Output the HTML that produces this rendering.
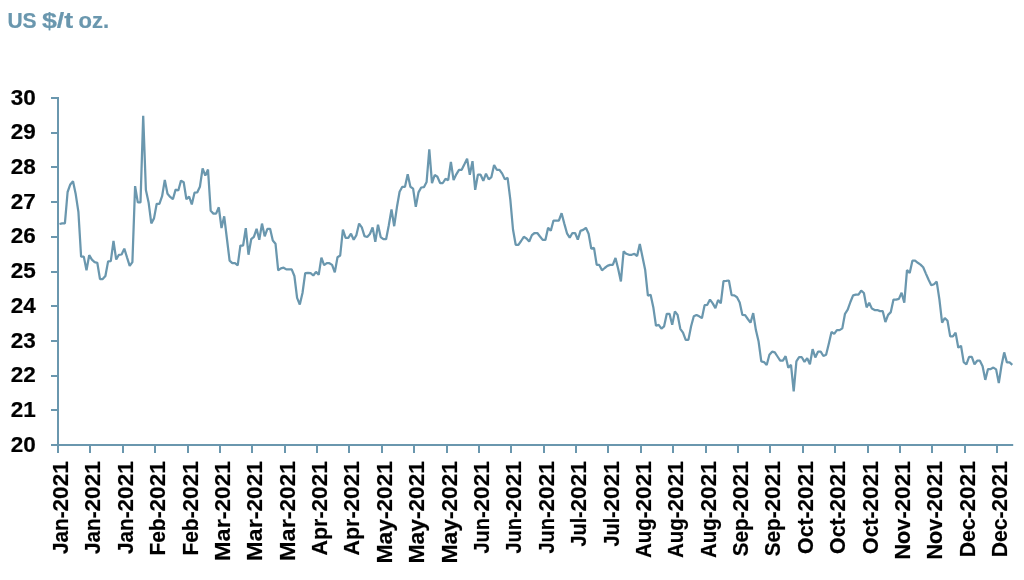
<!DOCTYPE html>
<html lang="en">
<head>
<meta charset="utf-8">
<title>US $/t oz.</title>
<style>
html,body{margin:0;padding:0;background:#fff;}
body{width:1024px;height:580px;overflow:hidden;}
svg{display:block;}
text{font-family:"Liberation Sans",sans-serif;font-weight:700;font-size:22.5px;}
.yl,.xl{fill:#000;stroke:#000;stroke-width:.2px;}
.ttl{fill:#6a97ae;stroke:#6a97ae;stroke-width:.2px;}
.ax{stroke:#6a97ae;stroke-width:2;fill:none;}
.ln{stroke:#6a97ae;stroke-width:2.25;fill:none;stroke-linejoin:bevel;stroke-linecap:butt;}
</style>
</head>
<body>
<svg width="1024" height="580" viewBox="0 0 1024 580">
<rect width="1024" height="580" fill="#fff"/>
<text class="ttl" y="28.4" style="font-size:21.5px"><tspan x="7.4" textLength="29.2" lengthAdjust="spacingAndGlyphs">US</tspan> <tspan x="41.9" textLength="31.3" lengthAdjust="spacingAndGlyphs">$/t</tspan> <tspan x="78.6" textLength="30.6" lengthAdjust="spacingAndGlyphs">oz.</tspan></text>
<g class="ax">
<path d="M58.0,97 V446"/>
<path d="M51,445.0 H1013.2"/>
<path d="M51,410H58.0M51,376H58.0M51,341H58.0M51,306H58.0M51,272H58.0M51,237H58.0M51,202H58.0M51,167H58.0M51,133H58.0M51,98H58.0"/>
<path d="M58,445.0V453M90,445.0V453M123,445.0V453M155,445.0V453M188,445.0V453M220,445.0V453M252,445.0V453M285,445.0V453M317,445.0V453M349,445.0V453M382,445.0V453M414,445.0V453M447,445.0V453M479,445.0V453M511,445.0V453M544,445.0V453M576,445.0V453M608,445.0V453M641,445.0V453M673,445.0V453M706,445.0V453M738,445.0V453M770,445.0V453M803,445.0V453M835,445.0V453M868,445.0V453M900,445.0V453M932,445.0V453M965,445.0V453M997,445.0V453"/>
</g>
<g class="yl">
<text x="10.85" y="104.6">30</text>
<text x="10.85" y="139.3">29</text>
<text x="10.85" y="174.0">28</text>
<text x="10.85" y="208.7">27</text>
<text x="10.85" y="243.4">26</text>
<text x="10.85" y="278.1">25</text>
<text x="10.85" y="312.8">24</text>
<text x="10.85" y="347.5">23</text>
<text x="10.85" y="382.2">22</text>
<text x="10.85" y="416.9">21</text>
<text x="10.85" y="451.6">20</text>
</g>
<g class="xl">
<text transform="translate(68.0,461.3) rotate(-90)" x="-92.6"><tspan textLength="42.5" lengthAdjust="spacingAndGlyphs">Jan-</tspan><tspan x="-50.1">2021</tspan></text>
<text transform="translate(100.4,461.3) rotate(-90)" x="-92.6"><tspan textLength="42.5" lengthAdjust="spacingAndGlyphs">Jan-</tspan><tspan x="-50.1">2021</tspan></text>
<text transform="translate(132.8,461.3) rotate(-90)" x="-92.6"><tspan textLength="42.5" lengthAdjust="spacingAndGlyphs">Jan-</tspan><tspan x="-50.1">2021</tspan></text>
<text transform="translate(165.1,461.3) rotate(-90)" x="-94.3"><tspan textLength="44.2" lengthAdjust="spacingAndGlyphs">Feb-</tspan><tspan x="-50.1">2021</tspan></text>
<text transform="translate(197.5,461.3) rotate(-90)" x="-94.3"><tspan textLength="44.2" lengthAdjust="spacingAndGlyphs">Feb-</tspan><tspan x="-50.1">2021</tspan></text>
<text transform="translate(229.9,461.3) rotate(-90)" x="-99.7"><tspan textLength="49.6" lengthAdjust="spacingAndGlyphs">Mar-</tspan><tspan x="-50.1">2021</tspan></text>
<text transform="translate(262.3,461.3) rotate(-90)" x="-99.7"><tspan textLength="49.6" lengthAdjust="spacingAndGlyphs">Mar-</tspan><tspan x="-50.1">2021</tspan></text>
<text transform="translate(294.7,461.3) rotate(-90)" x="-99.7"><tspan textLength="49.6" lengthAdjust="spacingAndGlyphs">Mar-</tspan><tspan x="-50.1">2021</tspan></text>
<text transform="translate(327.0,461.3) rotate(-90)" x="-94.2"><tspan textLength="44.1" lengthAdjust="spacingAndGlyphs">Apr-</tspan><tspan x="-50.1">2021</tspan></text>
<text transform="translate(359.4,461.3) rotate(-90)" x="-94.2"><tspan textLength="44.1" lengthAdjust="spacingAndGlyphs">Apr-</tspan><tspan x="-50.1">2021</tspan></text>
<text transform="translate(391.8,461.3) rotate(-90)" x="-102.3"><tspan textLength="52.2" lengthAdjust="spacingAndGlyphs">May-</tspan><tspan x="-50.1">2021</tspan></text>
<text transform="translate(424.2,461.3) rotate(-90)" x="-102.3"><tspan textLength="52.2" lengthAdjust="spacingAndGlyphs">May-</tspan><tspan x="-50.1">2021</tspan></text>
<text transform="translate(456.6,461.3) rotate(-90)" x="-102.3"><tspan textLength="52.2" lengthAdjust="spacingAndGlyphs">May-</tspan><tspan x="-50.1">2021</tspan></text>
<text transform="translate(488.9,461.3) rotate(-90)" x="-92.3"><tspan textLength="42.3" lengthAdjust="spacingAndGlyphs">Jun-</tspan><tspan x="-50.1">2021</tspan></text>
<text transform="translate(521.3,461.3) rotate(-90)" x="-92.3"><tspan textLength="42.3" lengthAdjust="spacingAndGlyphs">Jun-</tspan><tspan x="-50.1">2021</tspan></text>
<text transform="translate(553.7,461.3) rotate(-90)" x="-92.3"><tspan textLength="42.3" lengthAdjust="spacingAndGlyphs">Jun-</tspan><tspan x="-50.1">2021</tspan></text>
<text transform="translate(586.1,461.3) rotate(-90)" x="-85.1"><tspan textLength="35.1" lengthAdjust="spacingAndGlyphs">Jul-</tspan><tspan x="-50.1">2021</tspan></text>
<text transform="translate(618.5,461.3) rotate(-90)" x="-85.1"><tspan textLength="35.1" lengthAdjust="spacingAndGlyphs">Jul-</tspan><tspan x="-50.1">2021</tspan></text>
<text transform="translate(650.8,461.3) rotate(-90)" x="-96.8"><tspan textLength="46.7" lengthAdjust="spacingAndGlyphs">Aug-</tspan><tspan x="-50.1">2021</tspan></text>
<text transform="translate(683.2,461.3) rotate(-90)" x="-96.8"><tspan textLength="46.7" lengthAdjust="spacingAndGlyphs">Aug-</tspan><tspan x="-50.1">2021</tspan></text>
<text transform="translate(715.6,461.3) rotate(-90)" x="-96.8"><tspan textLength="46.7" lengthAdjust="spacingAndGlyphs">Aug-</tspan><tspan x="-50.1">2021</tspan></text>
<text transform="translate(748.0,461.3) rotate(-90)" x="-95.0"><tspan textLength="44.9" lengthAdjust="spacingAndGlyphs">Sep-</tspan><tspan x="-50.1">2021</tspan></text>
<text transform="translate(780.4,461.3) rotate(-90)" x="-95.0"><tspan textLength="44.9" lengthAdjust="spacingAndGlyphs">Sep-</tspan><tspan x="-50.1">2021</tspan></text>
<text transform="translate(812.7,461.3) rotate(-90)" x="-92.6"><tspan textLength="42.6" lengthAdjust="spacingAndGlyphs">Oct-</tspan><tspan x="-50.1">2021</tspan></text>
<text transform="translate(845.1,461.3) rotate(-90)" x="-92.6"><tspan textLength="42.6" lengthAdjust="spacingAndGlyphs">Oct-</tspan><tspan x="-50.1">2021</tspan></text>
<text transform="translate(877.5,461.3) rotate(-90)" x="-92.6"><tspan textLength="42.6" lengthAdjust="spacingAndGlyphs">Oct-</tspan><tspan x="-50.1">2021</tspan></text>
<text transform="translate(909.9,461.3) rotate(-90)" x="-98.3"><tspan textLength="48.2" lengthAdjust="spacingAndGlyphs">Nov-</tspan><tspan x="-50.1">2021</tspan></text>
<text transform="translate(942.3,461.3) rotate(-90)" x="-98.3"><tspan textLength="48.2" lengthAdjust="spacingAndGlyphs">Nov-</tspan><tspan x="-50.1">2021</tspan></text>
<text transform="translate(974.6,461.3) rotate(-90)" x="-96.0"><tspan textLength="45.9" lengthAdjust="spacingAndGlyphs">Dec-</tspan><tspan x="-50.1">2021</tspan></text>
<text transform="translate(1007.0,461.3) rotate(-90)" x="-96.0"><tspan textLength="45.9" lengthAdjust="spacingAndGlyphs">Dec-</tspan><tspan x="-50.1">2021</tspan></text>
</g>
<polyline class="ln" points="59.5,224.0 62.2,223.3 64.9,223.3 67.6,192.0 70.3,184.4 73.0,181.3 75.7,194.1 78.4,211.8 81.1,256.6 83.8,256.6 86.5,270.3 89.2,255.2 91.9,259.7 94.6,262.1 97.3,262.8 100.0,279.1 102.7,279.1 105.4,276.0 108.1,261.4 110.8,261.1 113.5,241.0 116.2,259.5 118.9,254.8 121.6,254.5 124.3,248.6 127.0,257.3 129.7,265.8 132.4,262.1 135.1,186.1 137.8,202.4 140.5,202.4 143.2,115.7 145.9,190.0 148.6,202.4 151.3,223.4 154.0,218.4 156.7,203.8 159.4,203.8 162.1,196.2 164.8,179.9 167.5,193.8 170.2,196.9 172.9,199.2 175.6,189.6 178.3,190.5 181.0,180.6 183.7,182.3 186.4,199.2 189.1,196.5 191.8,204.4 194.5,192.7 197.2,192.4 199.9,186.8 202.6,168.4 205.3,175.6 208.0,169.5 210.7,210.8 213.4,213.6 216.1,213.6 218.8,207.3 221.5,228.0 224.2,216.3 226.9,238.5 229.6,260.7 232.3,263.2 235.0,263.2 237.7,265.4 240.4,245.5 243.1,245.5 245.8,228.1 248.5,254.7 251.2,239.2 253.9,236.8 256.6,228.8 259.3,239.7 262.0,223.6 264.7,236.3 267.4,228.8 270.1,228.8 272.8,240.6 275.5,243.7 278.2,270.3 280.9,268.4 283.6,267.7 286.3,269.4 289.0,269.4 291.7,269.4 294.4,276.0 297.1,297.9 299.8,304.6 302.5,293.0 305.2,273.2 307.9,272.9 310.6,273.2 313.3,275.5 316.0,271.8 318.7,274.8 321.4,257.6 324.1,265.1 326.8,263.2 329.4,263.2 332.1,264.9 334.8,272.4 337.5,257.3 340.2,255.5 342.9,229.5 345.6,237.8 348.3,237.8 351.0,233.7 353.7,239.7 356.4,235.1 359.1,223.6 361.8,227.4 364.5,236.1 367.2,237.0 369.9,234.0 372.6,227.4 375.3,241.8 378.0,224.7 380.7,237.1 383.4,239.2 386.1,239.2 388.8,225.3 391.5,209.4 394.2,226.2 396.9,207.3 399.6,191.7 402.3,186.8 405.0,186.8 407.7,174.3 410.4,186.8 413.1,188.6 415.8,206.8 418.5,192.4 421.2,187.5 423.9,187.2 426.6,182.0 429.3,149.4 432.0,183.2 434.7,175.0 437.4,176.8 440.1,183.0 442.8,183.0 445.5,178.9 448.2,180.1 450.9,161.8 453.6,180.1 456.3,174.3 459.0,169.8 461.7,169.8 464.4,164.3 467.1,158.7 469.8,174.9 472.5,161.2 475.2,189.8 477.9,174.7 480.6,174.7 483.3,180.8 486.0,173.6 488.7,179.4 491.4,177.1 494.1,165.0 496.8,169.8 499.5,169.8 502.2,173.6 504.9,179.4 507.6,177.8 510.3,199.3 513.0,229.5 515.7,244.8 518.4,244.8 521.1,241.0 523.8,236.8 526.5,238.5 529.2,241.5 531.9,235.1 534.6,233.0 537.3,233.0 540.0,236.5 542.7,239.9 545.4,239.9 548.1,227.8 550.8,230.7 553.5,220.5 556.2,220.5 558.9,220.5 561.6,213.2 564.3,223.6 567.0,233.3 569.7,237.7 572.4,233.0 575.1,233.0 577.8,239.7 580.5,230.9 583.2,229.9 585.9,227.8 588.6,233.7 591.3,248.8 594.0,247.9 596.7,264.9 599.3,264.9 602.0,270.3 604.7,268.0 607.4,265.9 610.1,264.9 612.8,264.9 615.5,258.0 618.2,269.1 620.9,281.4 623.6,251.4 626.3,253.8 629.0,254.8 631.7,254.8 634.4,253.8 637.1,256.1 639.8,244.1 642.5,256.9 645.2,270.1 647.9,295.6 650.6,294.7 653.3,307.2 656.0,325.8 658.7,324.9 661.4,328.6 664.1,326.3 666.8,313.8 669.5,313.8 672.2,324.8 674.9,311.4 677.6,314.9 680.3,328.8 683.0,332.6 685.7,339.9 688.4,339.9 691.1,326.3 693.8,316.3 696.5,314.9 699.2,316.3 701.9,318.2 704.6,305.2 707.3,304.8 710.0,299.6 712.7,303.4 715.4,308.1 718.1,300.0 720.8,303.3 723.5,281.2 726.2,280.9 728.9,280.5 731.6,295.1 734.3,295.4 737.0,297.2 739.7,302.4 742.4,314.9 745.1,315.2 747.8,319.0 750.5,322.7 753.2,313.1 755.9,330.1 758.6,341.6 761.3,361.4 764.0,362.1 766.7,365.0 769.4,354.8 772.1,351.7 774.8,352.4 777.5,356.5 780.2,360.7 782.9,360.7 785.6,356.2 788.3,367.8 791.0,364.8 793.7,391.4 796.4,361.4 799.1,357.2 801.8,357.2 804.5,361.9 807.2,358.2 809.9,364.3 812.6,349.2 815.3,357.4 818.0,351.7 820.7,351.7 823.4,356.0 826.1,354.8 828.8,343.7 831.5,331.9 834.2,333.8 836.9,330.1 839.6,330.1 842.3,328.4 845.0,313.8 847.7,309.7 850.4,302.0 853.1,295.4 855.8,294.7 858.5,294.7 861.2,290.6 863.9,293.0 866.6,307.4 869.2,302.7 871.9,308.6 874.6,310.0 877.3,310.0 880.0,311.1 882.7,311.1 885.4,322.0 888.1,314.9 890.8,312.1 893.5,299.6 896.2,299.6 898.9,298.9 901.6,292.7 904.3,302.6 907.0,270.1 909.7,273.1 912.4,260.7 915.1,260.7 917.8,262.8 920.5,264.6 923.2,267.3 925.9,273.6 928.6,279.8 931.3,285.2 934.0,284.3 936.7,281.6 939.4,299.3 942.1,322.7 944.8,318.0 947.5,320.8 950.2,336.4 952.9,336.4 955.6,332.6 958.3,347.7 961.0,345.8 963.7,362.1 966.4,364.3 969.1,356.9 971.8,356.9 974.5,364.3 977.2,360.7 979.9,360.7 982.6,366.2 985.3,379.9 988.0,369.0 990.7,369.0 993.4,367.6 996.1,369.4 998.8,383.1 1001.5,365.5 1004.2,352.4 1006.9,362.4 1009.6,362.4 1012.3,364.8"/>
</svg>
</body>
</html>
